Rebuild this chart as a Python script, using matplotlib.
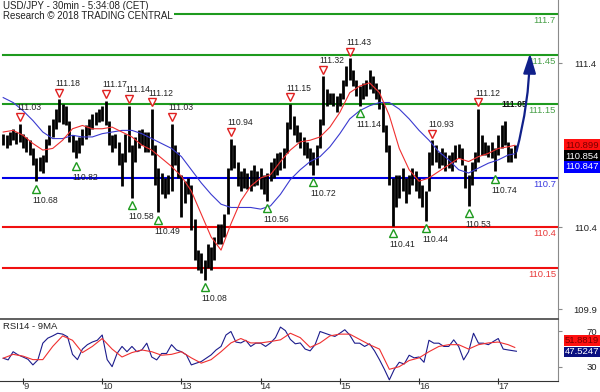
import numpy as np
import matplotlib
matplotlib.use('Agg')
import matplotlib.pyplot as plt
from matplotlib.transforms import offset_copy, blended_transform_factory

plt.rcParams['font.family'] = ['Liberation Sans', 'DejaVu Sans']

# hourly bars, hour 0 = start of the 9th
bar_hour = np.arange(-6, 150)
bar_lo = [110.90, 110.88, 110.90, 110.93, 110.91, 110.92, 110.88, 110.86, 110.84, 110.78,
          110.68, 110.74, 110.73, 110.80, 110.90, 110.95, 111.00, 111.04, 111.03, 111.02,
          110.92, 110.86, 110.82, 110.85, 110.90, 110.94, 110.96, 111.00, 111.02, 111.04,
          111.05, 111.02, 110.90, 110.86, 110.88, 110.78, 110.65, 110.80, 110.86, 110.58,
          110.80, 110.88, 110.90, 110.86, 110.86, 110.84, 110.66, 110.49, 110.60, 110.58,
          110.60, 110.62, 110.78, 110.70, 110.46, 110.55, 110.60, 110.38, 110.20, 110.14,
          110.12, 110.08, 110.15, 110.14, 110.20, 110.30, 110.30, 110.34, 110.48, 110.75,
          110.76, 110.65, 110.62, 110.64, 110.63, 110.62, 110.65, 110.66, 110.63, 110.60,
          110.56, 110.68, 110.70, 110.72, 110.75, 110.76, 110.85, 111.00, 110.96, 110.92,
          110.88, 110.84, 110.82, 110.78, 110.72, 110.78, 110.88, 111.02, 111.14, 111.15,
          111.14, 111.10, 111.14, 111.18, 111.26, 111.30, 111.26, 111.20, 111.14, 111.18,
          111.20, 111.24, 111.22, 111.18, 111.12, 110.98, 110.86, 110.66, 110.41, 110.52,
          110.58, 110.62, 110.55, 110.60, 110.66, 110.62, 110.58, 110.52, 110.44, 110.62,
          110.78, 110.80, 110.76, 110.78, 110.74, 110.76, 110.74, 110.80, 110.82, 110.78,
          110.64, 110.53, 110.66, 110.74, 110.80, 110.84, 110.84, 110.83, 110.82, 110.74,
          110.84, 110.88, 110.90, 110.80, 110.80, 110.82]
bar_hi = [110.97, 110.96, 110.98, 111.00, 110.98, 111.03, 110.97, 110.95, 110.93, 110.88,
          110.82, 110.83, 110.84, 110.94, 111.02, 111.06, 111.12, 111.18, 111.15, 111.14,
          111.05, 110.96, 110.93, 110.95, 111.00, 111.02, 111.06, 111.09, 111.10, 111.12,
          111.14, 111.17, 111.05, 110.96, 110.97, 110.92, 110.85, 110.97, 111.14, 110.90,
          110.95, 110.99, 111.00, 110.98, 110.98, 111.12, 110.90, 110.76, 110.73, 110.70,
          110.72, 111.03, 110.90, 110.86, 110.72, 110.68, 110.70, 110.66, 110.45, 110.26,
          110.24, 110.20, 110.30, 110.28, 110.34, 110.42, 110.42, 110.48, 110.76, 110.94,
          110.90, 110.80, 110.74, 110.76, 110.73, 110.75, 110.78, 110.74, 110.76, 110.72,
          110.73, 110.80, 110.82, 110.85, 110.86, 110.88, 111.04, 111.15, 111.08, 111.02,
          110.98, 110.95, 110.92, 110.88, 110.86, 110.90, 111.06, 111.32, 111.24, 111.22,
          111.22, 111.20, 111.22, 111.30, 111.38, 111.43, 111.36, 111.30, 111.26, 111.28,
          111.30, 111.36, 111.32, 111.28, 111.24, 111.16, 111.02, 110.90, 110.70, 110.72,
          110.72, 110.76, 110.70, 110.72, 110.76, 110.74, 110.70, 110.66, 110.62, 110.86,
          110.93, 110.90, 110.86, 110.88, 110.86, 110.84, 110.86, 110.90, 110.91, 110.88,
          110.78, 110.72, 110.80, 110.86, 111.12, 110.96, 110.92, 110.90, 110.92, 110.88,
          110.96, 111.02, 111.05, 110.92, 110.88, 110.90]
last_close = 110.854

# moving averages, sampled every 3 hours
ma_hour = np.append(np.arange(-6, 148, 3), 149)
ma_fast = [110.98, 110.99, 110.96, 110.91, 110.87, 110.88, 110.93, 111.00, 111.02, 111.00,
           111.00, 111.01, 110.98, 110.95, 110.90, 110.87, 110.82, 110.77, 110.71, 110.62,
           110.48, 110.34, 110.26, 110.42, 110.56, 110.65, 110.70, 110.72, 110.80, 110.87,
           110.92, 110.93, 110.95, 111.01, 111.10, 111.22, 111.26, 111.28, 111.22, 111.08,
           110.88, 110.75, 110.68, 110.70, 110.74, 110.78, 110.82, 110.80, 110.83, 110.85,
           110.88, 110.89, 110.899]
ma_slow = [111.19, 111.16, 111.11, 111.05, 110.98, 110.94, 110.94, 110.96, 110.95, 110.95,
           110.97, 110.98, 110.99, 110.99, 110.97, 110.94, 110.91, 110.88, 110.83, 110.75,
           110.67, 110.60, 110.54, 110.52, 110.52, 110.52, 110.51, 110.53, 110.60, 110.69,
           110.75, 110.80, 110.83, 110.89, 110.97, 111.06, 111.11, 111.14, 111.16, 111.16,
           111.12, 111.06, 110.99, 110.93, 110.86, 110.81, 110.75, 110.73, 110.76, 110.79,
           110.81, 110.84, 110.847]

# RSI14 every 1.5 hours and its 9MA every 3 hours
rsi_hour = np.append(np.arange(-6, 148, 1.5), 149.5)
rsi = [39.6, 37.7, 47, 43.4, 41, 38.4, 32, 37.7, 56.7, 62.4,
       65, 68, 67, 64, 44, 38, 50, 55, 58, 60,
       66, 38, 30, 45, 53, 47, 53, 47, 49, 56.7,
       41, 37.7, 45, 45, 55, 49, 47, 43.4, 32, 34,
       35.8, 39.6, 43.4, 49, 53, 66, 70, 58, 57, 60,
       53, 56.7, 56.7, 53, 57, 63, 75, 71, 61, 56,
       57, 50, 48, 55, 70, 68, 66, 64.4, 68, 72,
       66, 56.7, 56.7, 53, 56, 48, 38, 27, 15, 27,
       35, 33, 43, 40, 41, 35, 60, 56.7, 56.7, 53,
       53, 60.5, 53, 37.7, 47, 68, 56.7, 56.7, 55, 58.6,
       62, 50, 49, 47.5247]
rsi_ma = [39.6, 44, 42, 38, 38, 53, 65, 60, 46, 53,
          62, 50, 41, 46, 49, 47, 43, 44, 47, 40,
          34, 38, 47, 57, 62, 57, 57, 58.6, 60.5, 68,
          63, 52, 57, 65, 67, 67, 61, 55, 50, 27,
          30, 37, 40, 47, 53, 55, 55, 50, 55, 57,
          58, 55, 51.8819]

peak_hour = [-1, 11, 25, 32, 39, 45, 63, 81, 91, 99, 124, 138]
peak_val = [111.03, 111.18, 111.17, 111.14, 111.12, 111.03, 110.94, 111.15, 111.32, 111.43, 110.93, 111.12]
trough_hour = [4, 16, 33, 41, 55, 74, 88, 102, 112, 122, 135, 143]
trough_val = [110.68, 110.82, 110.58, 110.49, 110.08, 110.56, 110.72, 111.14, 110.41, 110.44, 110.53, 110.74]
last_peak_hour = 146
last_peak_val = 111.05

res_levels = [111.7, 111.45, 111.15]
pivot_level = 110.7
sup_levels = [110.4, 110.15]
arrow_hour = [149.5, 153.6]
arrow_val = [110.86, 111.46]

day_hour = [0, 24, 48, 72, 96, 120, 144]
day_labels = ['9', '10', '13', '14', '15', '16', '17']
price_ticks = [109.9, 110.4, 111.4]
rsi_ticks = [30, 70]

fs = 6.2
fig = plt.figure(figsize=(6, 3.92), dpi=100)
ax = fig.add_axes([0, 1 - 318.5 / 392, 558 / 600, 318.5 / 392])
ax2 = fig.add_axes([0, 1 - 381 / 392, 558 / 600, 62 / 392])

xlim = (-6.97, 162.1)
ax.set_xlim(*xlim)
ax.set_ylim(109.843, 111.785)
ax2.set_xlim(*xlim)
ax2.set_ylim(13.7, 84.2)

# level lines
lab_tr = blended_transform_factory(ax.transAxes, ax.transData)
for lv in res_levels:
    ax.axhline(lv, xmin=0.005, color='#1e9a1e', lw=1.5, zorder=2)
    ax.annotate(f'{lv:g}', (1, lv), xycoords=lab_tr, xytext=(-1.5, -1.5), textcoords='offset points',
                ha='right', va='top', fontsize=fs + 0.6, color='#4aa04a')
ax.axhline(pivot_level, xmin=0.005, color='#0000e6', lw=1.5, zorder=2)
ax.annotate(f'{pivot_level:g}', (1, pivot_level), xycoords=lab_tr, xytext=(-1.5, -1.5),
            textcoords='offset points', ha='right', va='top', fontsize=fs + 0.6, color='#3a3ae0')
for lv in sup_levels:
    ax.axhline(lv, xmin=0.005, color='#f01010', lw=1.5, zorder=2)
    ax.annotate(f'{lv:g}', (1, lv), xycoords=lab_tr, xytext=(-1.5, -1.5), textcoords='offset points',
                ha='right', va='top', fontsize=fs + 0.6, color='#e83a3a')

# price bars and moving averages
ax.vlines(bar_hour, bar_lo, bar_hi, color='black', lw=2.0, zorder=3)
ax.plot(ma_hour, ma_slow, color='#3a3ad0', lw=0.8, zorder=4)
ax.plot(ma_hour, ma_fast, color='#f03030', lw=0.8, zorder=4)

# pivot markers
up = offset_copy(ax.transData, fig, y=4.8, units='points')
dn = offset_copy(ax.transData, fig, y=-5.4, units='points')
ax.plot(peak_hour, peak_val, 'v', ms=6, mfc='white', mec='#e02020', mew=1, transform=up, zorder=5)
ax.plot(trough_hour, trough_val, '^', ms=6, mfc='white', mec='#1e9a1e', mew=1, transform=dn, zorder=5)
for h, v in zip(peak_hour, peak_val):
    ax.annotate(f'{v:.2f}', (h, v), xytext=(-2.5, 11.5), textcoords='offset points',
                ha='left', va='center', fontsize=fs, color='#222222', zorder=6)
for h, v in zip(trough_hour, trough_val):
    ax.annotate(f'{v:.2f}', (h, v), xytext=(-2.5, -13.7), textcoords='offset points',
                ha='left', va='center', fontsize=fs, color='#222222', zorder=6)
ax.annotate(f'{last_peak_val:.2f}', (last_peak_hour, last_peak_val), xytext=(-2.5, 11.5),
            textcoords='offset points', ha='left', va='center', fontsize=fs, color='#111111',
            fontweight='bold', zorder=6)

# forecast arrow
ax.annotate('', xy=(arrow_hour[1], arrow_val[1]), xytext=(arrow_hour[0], arrow_val[0]),
            arrowprops=dict(arrowstyle='-|>,head_length=1.2,head_width=0.38', mutation_scale=10,
                            color='#10208a', lw=1.6, shrinkA=0, shrinkB=0,
                            connectionstyle='arc3,rad=0.06'), zorder=7)

# right axis
for a in (ax, ax2):
    for s in ('top', 'left', 'bottom'):
        a.spines[s].set_visible(False)
    a.spines['right'].set_color('#8a8a8a')
    a.yaxis.tick_right()
    a.tick_params(axis='y', direction='out', length=3, pad=25, labelsize=fs + 0.6,
                  colors='#8a8a8a', labelcolor='#222222')
ax.set_xticks([])
ax.set_yticks(price_ticks)
ax.set_yticklabels([f'{t:g}' for t in price_ticks])
for lbl in ax.get_yticklabels():
    lbl.set_ha('right')

# value boxes on the right
vb = dict(xycoords=lab_tr, textcoords='offset points', ha='left', va='center',
          fontsize=fs + 0.6, annotation_clip=False)
ax.annotate(f'{ma_fast[-1]:.3f}', (1, ma_fast[-1]), xytext=(5, 0), color='#7a0000',
            bbox=dict(boxstyle='square,pad=0.15', fc='#ff1010', ec='none'), **vb)
ax.annotate(f'{last_close:.3f}', (1, last_close), xytext=(5, -2.6), color='white',
            bbox=dict(boxstyle='square,pad=0.15', fc='black', ec='none'), **vb)
ax.annotate(f'{ma_slow[-1]:.3f}', (1, ma_slow[-1]), xytext=(5, -9.2), color='white',
            bbox=dict(boxstyle='square,pad=0.15', fc='#0000ff', ec='none'), **vb)

# RSI panel
ax2.plot(rsi_hour, rsi, color='#1c1c8c', lw=0.8)
ax2.plot(ma_hour, rsi_ma, color='#f03030', lw=0.8)
ax2.spines['top'].set_visible(True)
ax2.spines['top'].set_color('#444444')
ax2.spines['top'].set_linewidth(1.2)
ax2.spines['bottom'].set_visible(True)
ax2.spines['bottom'].set_color('#333333')
ax2.set_yticks(rsi_ticks)
ax2.set_yticklabels([str(t) for t in rsi_ticks])
for lbl in ax2.get_yticklabels():
    lbl.set_ha('right')
ax2.set_xticks(day_hour)
ax2.set_xticklabels(day_labels)
ax2.tick_params(axis='x', direction='inout', length=4, pad=-1.5, labelsize=fs + 0.6, colors='#333333')
for lbl in ax2.get_xticklabels():
    lbl.set_ha('left')
rtr = blended_transform_factory(ax2.transAxes, ax2.transData)
ax2.annotate(f'{rsi_ma[-1]:.4f}', (1, rsi_ma[-1]), xycoords=rtr, xytext=(5, 5.2), textcoords='offset points',
             ha='left', va='center', fontsize=fs + 0.6, color='#7a0000', annotation_clip=False,
             bbox=dict(boxstyle='square,pad=0.1', fc='#ff1010', ec='none'))
ax2.annotate(f'{rsi[-1]:.4f}', (1, rsi[-1]), xycoords=rtr, xytext=(5, -0.5), textcoords='offset points',
             ha='left', va='center', fontsize=fs + 0.6, color='white', annotation_clip=False,
             bbox=dict(boxstyle='square,pad=0.1', fc='#0a1080', ec='none'))
ax2.text(0.005, 0.88, 'RSI14 - 9MA', transform=ax2.transAxes, fontsize=fs + 0.6, color='#222222',
         va='center')

# header
fig.text(0.005, 1 - 6 / 392, 'USD/JPY - 30min - 5:34:08 (CET)', fontsize=fs + 0.8, color='#222222',
         va='center')
fig.text(0.005, 1 - 16 / 392, 'Research \u00a9 2018 TRADING CENTRAL', fontsize=fs + 0.8,
         color='#222222', va='center', zorder=10,
         bbox=dict(boxstyle='square,pad=0.1', fc='white', ec='none'))

fig.savefig('out.png', dpi=100, facecolor='white')
